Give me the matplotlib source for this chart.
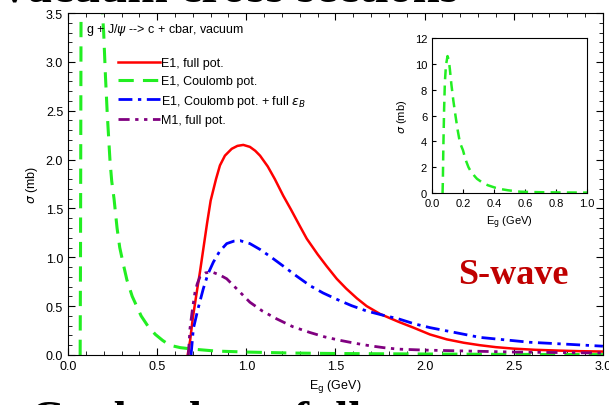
import matplotlib
matplotlib.use("Agg")
import matplotlib.pyplot as plt
from matplotlib.ticker import MultipleLocator

plt.rcParams['font.family'] = ['Liberation Sans', 'DejaVu Sans']
plt.rcParams['mathtext.fontset'] = 'dejavusans'

# E1, full potential
red_x = [0.671, 0.685, 0.70, 0.72, 0.74, 0.76, 0.78, 0.80, 0.83, 0.852, 0.88, 0.918, 0.95,
         0.983, 1.02, 1.05, 1.077, 1.12, 1.16, 1.207, 1.25, 1.30, 1.339, 1.40, 1.45, 1.507,
         1.56, 1.62, 1.675, 1.75, 1.853, 1.937, 2.03, 2.124, 2.22, 2.31, 2.40, 2.50, 2.62,
         2.75, 2.87, 3.0]
red_y = [0.0, 0.15, 0.38, 0.62, 0.85, 1.10, 1.35, 1.58, 1.80, 1.94, 2.04, 2.11, 2.14,
         2.15, 2.13, 2.09, 2.04, 1.93, 1.80, 1.63, 1.49, 1.32, 1.19, 1.03, 0.91, 0.78,
         0.68, 0.58, 0.50, 0.42, 0.34, 0.28, 0.21, 0.16, 0.125, 0.10, 0.08, 0.065, 0.053,
         0.045, 0.039, 0.035]

# E1, Coulomb potential
green_x = [0.068, 0.070, 0.073, 0.078, 0.083, 0.09, 0.10, 0.108, 0.115, 0.125, 0.137, 0.15,
           0.165, 0.18, 0.19, 0.20, 0.21, 0.22, 0.235, 0.245, 0.258, 0.275, 0.29, 0.31, 0.33,
           0.36, 0.41, 0.45, 0.49, 0.53, 0.57, 0.63, 0.70, 0.83, 1.0, 1.25, 1.5, 2.0, 2.5, 3.0]
green_y = [0.0, 1.0, 3.5, 6.5, 8.6, 9.9, 10.6, 10.3, 9.6, 8.4, 7.2, 6.1,
           4.9, 3.9, 3.6, 3.3, 2.85, 2.47, 2.0, 1.78, 1.6, 1.3, 1.1, 0.93, 0.77,
           0.60, 0.40, 0.29, 0.21, 0.15, 0.10, 0.075, 0.06, 0.04, 0.03, 0.02, 0.015, 0.01,
           0.006, 0.004]

# E1, Coulomb potential + full binding energy
blue_x = [0.69, 0.703, 0.73, 0.759, 0.785, 0.815, 0.85, 0.89, 0.93, 0.965, 1.02, 1.077,
          1.14, 1.207, 1.28, 1.357, 1.43, 1.507, 1.59, 1.675, 1.76, 1.853, 1.94, 2.03, 2.17,
          2.31, 2.45, 2.59, 2.8, 3.0]
blue_y = [0.0, 0.27, 0.48, 0.68, 0.83, 0.95, 1.06, 1.14, 1.165, 1.17, 1.14, 1.08,
          1.00, 0.91, 0.81, 0.71, 0.635, 0.57, 0.505, 0.45, 0.41, 0.37, 0.32, 0.28, 0.23,
          0.18, 0.155, 0.13, 0.11, 0.09]

# M1, full potential
purple_x = [0.675, 0.684, 0.698, 0.712, 0.725, 0.74, 0.77, 0.806, 0.85, 0.89, 0.95, 1.02,
            1.09, 1.17, 1.26, 1.357, 1.44, 1.525, 1.61, 1.69, 1.77, 1.85, 2.0, 2.25, 2.5,
            2.75, 3.0]
purple_y = [0.0, 0.27, 0.47, 0.64, 0.73, 0.80, 0.84, 0.85, 0.82, 0.78, 0.67, 0.54,
            0.45, 0.37, 0.29, 0.23, 0.185, 0.15, 0.12, 0.095, 0.075, 0.06, 0.05, 0.04, 0.03,
            0.025, 0.02]

fig = plt.figure(figsize=(6.09, 4.06), dpi=100)

# slide text cut off at the top and bottom
fig.text(-0.005, 0.996, 'Vacuum cross sections', fontsize=35, fontweight='bold',
         family='Liberation Serif', va='baseline')
fig.text(0.05, -0.066, 'Coulomb vs. full', fontsize=34, fontweight='bold',
         family='Liberation Serif', va='baseline')

ax = fig.add_axes([0.1117, 0.1232, 0.8783, 0.8423])
ax.set_facecolor('none')

ax.plot(red_x, red_y, color='#ff0000', lw=1.8, label='E1, full pot.')
ax.plot(green_x, green_y, color='#22ee22', lw=2.2, dashes=(5, 3), label='E1, Coulomb pot.')
ax.plot(blue_x, blue_y, color='#0000ff', lw=2.0, dashes=(5, 2, 1.2, 2),
        label=r'E1, Coulomb pot. + full $\varepsilon_B$')
ax.plot(purple_x, purple_y, color='#800080', lw=2.0, dashes=(4, 2, 1.2, 2, 1.2, 2),
        label='M1, full pot.')

ax.set_xlim(0, 3.0)
ax.set_ylim(0, 3.5)
ax.xaxis.set_major_locator(MultipleLocator(0.5))
ax.xaxis.set_minor_locator(MultipleLocator(0.1))
ax.yaxis.set_major_locator(MultipleLocator(0.5))
ax.yaxis.set_minor_locator(MultipleLocator(0.1))
ax.tick_params(which='both', direction='in', top=True, right=True, labelsize=9)
ax.tick_params(which='major', length=5)
ax.tick_params(which='minor', length=3)
ax.set_xlabel(r'E$_{\mathrm{g}}$ (GeV)', fontsize=9, labelpad=4)
ax.set_ylabel(r'$\sigma$ (mb)', fontsize=9)

ax.text(0.1, 3.42, r'g + J/$\psi$ --> c + cbar, vacuum', fontsize=9, va='top')
ax.legend(loc='upper left', bbox_to_anchor=(0.085, 0.885), frameon=False, fontsize=9,
          handlelength=3.3, handletextpad=0.1, labelspacing=0.45, borderaxespad=0)

ax.text(2.19, 0.74, 'S-wave', fontsize=26, fontweight='bold', color='#c00000',
        family='Liberation Serif')

# inset with the full Coulomb curve
ins = fig.add_axes([0.7094, 0.5222, 0.2545, 0.3817])
ins.plot(green_x, green_y, color='#22ee22', lw=1.8, dashes=(4, 2.5))
ins.set_xlim(0, 1.0)
ins.set_ylim(0, 12)
ins.xaxis.set_major_locator(MultipleLocator(0.2))
ins.yaxis.set_major_locator(MultipleLocator(2))
ins.tick_params(direction='in', labelsize=8, length=3)
ins.set_xlabel(r'E$_{\mathrm{g}}$ (GeV)', fontsize=8)
ins.set_ylabel(r'$\sigma$ (mb)', fontsize=8)

fig.savefig('out.png', dpi=100)
